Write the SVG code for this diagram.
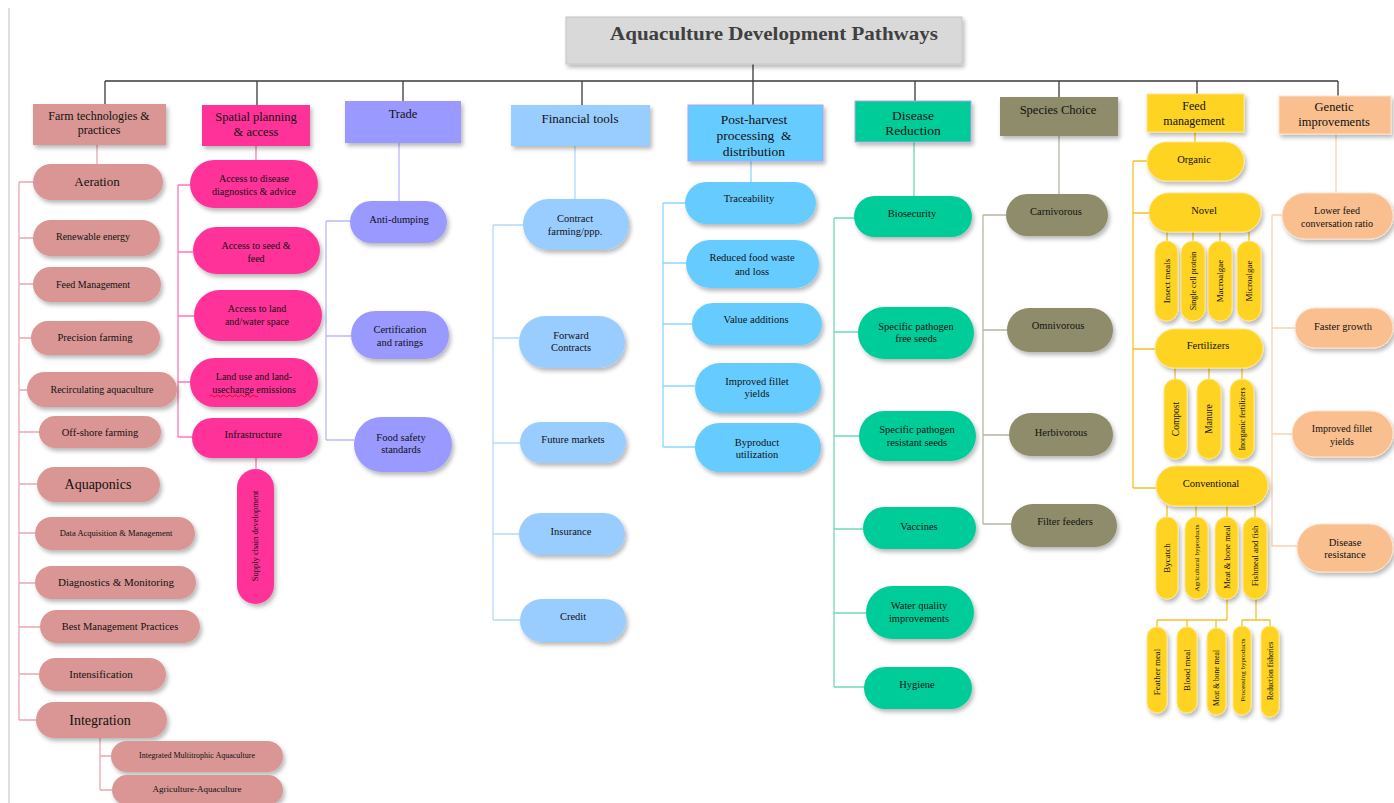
<svg xmlns="http://www.w3.org/2000/svg" width="1394" height="803" viewBox="0 0 1394 803">
<defs>
<filter id="sh" x="-20%" y="-20%" width="150%" height="160%">
<feDropShadow dx="2" dy="3" stdDeviation="2" flood-color="#000" flood-opacity="0.28"/>
</filter>
<style>
text{font-family:"Liberation Serif","DejaVu Serif",serif;fill:#111;text-anchor:middle}
.title{font-weight:bold;fill:#404040;font-size:19px}
.node{filter:url(#sh)}
.f1{fill:#d99694}
.f2{fill:#ff3399}
.f3{fill:#9999ff}
.f4{fill:#99ccff}
.f5{fill:#66ccff}
.f6{fill:#00cc99}
.f7{fill:#8e8c6b}
.f8{fill:#fed324;stroke:#ffe680;stroke-width:1}
.f9{fill:#f9bf8f;stroke:#fde2cc;stroke-width:1}
.cat5{stroke:#a9a6f0;stroke-width:1}
.cat6{stroke:#b4a7e6;stroke-width:1}
.s7{font-size:7px}.s75{font-size:7.5px}.s8{font-size:8px}.s85{font-size:8.5px}.s9{font-size:9px}.s95{font-size:9.5px}
.s10{font-size:10px}.s105{font-size:10.5px}.s11{font-size:11px}.s12{font-size:12px}.s125{font-size:12.5px}
.s13{font-size:13px}.s135{font-size:13.5px}.s14{font-size:14px}
#connectors path{fill:none;stroke-width:1.3}
.k0{stroke:#3a3a3a}
.k1{stroke:#eaa6b0}
.k2{stroke:#ff77b8}
.k3{stroke:#b8b8ff}
.k4{stroke:#b3d9ff}
.k5{stroke:#8fd6ff}
.k6{stroke:#70d8b8}
.k7{stroke:#b8b6a0}
.k8{stroke:#f5c02a}
.k9{stroke:#fad2b4}
</style>
</defs>
<rect width="1394" height="803" fill="#ffffff"/>
<line x1="9" y1="8" x2="9" y2="803" stroke="#d4d4d4" stroke-width="1.5"/>

<g id="connectors">
<path class="k0" d="M753 64V81M105 81H1338M105 81V104M257 81V105M403 81V101M582 81V105M753 81V105M915 81V101M1059 81V97M1197 81V94M1338 81V96"/>
<path class="k1" d="M97 145V164M19 182V720M19 182H33M19 238H33M19 284H33M19 338H31M19 390H27M19 432H39M19 484H37M19 533H35M19 583H35M19 627H40M19 674H39M19 720H36M100 738V790M100 756H111M100 790H112"/>
<path class="k2" d="M256 146V160M178 185V437M178 185H190M178 252H193M178 316H194M178 382H190M178 437H192M256 458V469"/>
<path class="k3" d="M399 143V201M326 221V440M326 221H350M326 336H351M326 440H354"/>
<path class="k4" d="M575 146V199M493 225V620M493 225H523M493 338H519M493 443H520M493 534H519M493 620H520"/>
<path class="k5" d="M751 161V182M663 203V447M663 203H685M663 263H686M663 324H692M663 386H695M663 447H695"/>
<path class="k6" d="M914 142V196M834 218V687M834 218H854M834 332H858M834 436H859M834 529H863M834 613H866M834 687H864"/>
<path class="k7" d="M1059 136V194M983 215V524M983 215H1006M983 330H1007M983 435H1009M983 524H1011"/>
<path class="k8" d="M1195 132V142M1133 161V488M1133 161H1147M1133 213H1149M1133 349H1155M1133 488H1156M1167 232V241M1193 232V241M1220 232V241M1249 232V241M1175 368V379M1209 368V379M1242 368V379M1167 506V517M1196 506V517M1227 506V517M1255 506V517M1227 599V620M1157 620H1227M1157 620V627M1187 620V627M1216 620V628M1256 599V620M1242 620H1270M1242 620V626M1270 620V626"/>
<path class="k9" d="M1336 134V193M1272 215V546M1272 215H1282M1272 328H1295M1272 434H1292M1272 546H1297"/>
</g>

<g id="title">
<rect class="node" x="566" y="17" width="396" height="47" fill="#d9d9d9" stroke="#c4c4c4" stroke-width="1"/>
<text class="title" x="774" y="40" textLength="328" lengthAdjust="spacingAndGlyphs">Aquaculture Development Pathways</text>
</g>

<!-- Farm technologies -->
<g id="farm">
<rect class="node f1" x="33" y="104" width="133" height="41"/>
<text class="s12" x="99" y="120">Farm technologies &amp;</text>
<text class="s12" x="99" y="134">practices</text>
</g>
<g id="aeration"><rect class="node f1" x="33" y="164" width="130" height="36" rx="18"/><text class="s13" x="97" y="186">Aeration</text></g>
<g id="renewable"><rect class="node f1" x="33" y="220" width="127" height="36" rx="18"/><text class="s10" x="93" y="240">Renewable energy</text></g>
<g id="feedmgmt"><rect class="node f1" x="33" y="267" width="128" height="35" rx="17.5"/><text class="s10" x="93" y="288">Feed Management</text></g>
<g id="precision"><rect class="node f1" x="31" y="321" width="129" height="34" rx="17"/><text class="s105" x="95" y="341">Precision farming</text></g>
<g id="recirc"><rect class="node f1" x="27" y="372" width="150" height="35" rx="17.5"/><text class="s10" x="102" y="393">Recirculating aquaculture</text></g>
<g id="offshore"><rect class="node f1" x="39" y="416" width="122" height="32" rx="16"/><text class="s105" x="100" y="436">Off-shore farming</text></g>
<g id="aquaponics"><rect class="node f1" x="37" y="467" width="123" height="35" rx="17.5"/><text class="s14" x="98" y="489">Aquaponics</text></g>
<g id="dataacq"><rect class="node f1" x="35" y="517" width="160" height="33" rx="16.5"/><text class="s85" x="116" y="536">Data Acquisition &amp; Management</text></g>
<g id="diagnostics"><rect class="node f1" x="35" y="566" width="161" height="33" rx="16.5"/><text class="s11" x="116" y="586">Diagnostics &amp; Monitoring</text></g>
<g id="bmp"><rect class="node f1" x="40" y="610" width="160" height="33" rx="16.5"/><text class="s105" x="120" y="630">Best Management Practices</text></g>
<g id="intens"><rect class="node f1" x="39" y="658" width="127" height="33" rx="16.5"/><text class="s11" x="101" y="678">Intensification</text></g>
<g id="integration"><rect class="node f1" x="36" y="702" width="131" height="36" rx="18"/><text class="s14" x="100" y="725">Integration</text></g>
<g id="imta"><rect class="node f1" x="111" y="741" width="172" height="31" rx="15.5"/><text class="s8" x="197" y="758">Integrated Multitrophic Aquaculture</text></g>
<g id="agriaqua"><rect class="node f1" x="112" y="775" width="171" height="30" rx="15"/><text class="s9" x="197" y="792">Agriculture-Aquaculture</text></g>

<!-- Spatial planning -->
<g id="spatial">
<rect class="node f2" x="202" y="105" width="108" height="41"/>
<text class="s125" x="256" y="121">Spatial planning</text>
<text class="s125" x="256" y="136">&amp; access</text>
</g>
<g id="accdisease"><rect class="node f2" x="190" y="160" width="128" height="48" rx="24"/><text class="s10" x="254" y="182">Access to disease</text><text class="s10" x="254" y="195">diagnostics &amp; advice</text></g>
<g id="accseed"><rect class="node f2" x="193" y="227" width="127" height="47" rx="23.5"/><text class="s10" x="256" y="249">Access to seed &amp;</text><text class="s10" x="256" y="262">feed</text></g>
<g id="accland"><rect class="node f2" x="194" y="290" width="128" height="51" rx="25.5"/><text class="s10" x="257" y="312">Access to land</text><text class="s10" x="257" y="325">and/water space</text></g>
<g id="landuse"><rect class="node f2" x="190" y="358" width="128" height="49" rx="24.5"/><text class="s10" x="254" y="380">Land use and land-</text><text class="s10" x="254" y="393">usechange emissions</text>
<path d="M210 396q1.5 -2 3 0t3 0t3 0t3 0t3 0t3 0t3 0t3 0t3 0t3 0t3 0t3 0t3 0t3 0t3 0t3 0" fill="none" stroke="#e00000" stroke-width="0.8"/></g>
<g id="infra"><rect class="node f2" x="192" y="418" width="126" height="40" rx="20"/><text class="s105" x="253" y="438">Infrastructure</text></g>
<g id="supply"><rect class="node f2" x="237" y="469" width="37" height="135" rx="18.5"/><text class="s85" transform="translate(255 536) rotate(-90)" y="3">Supply chain development</text></g>

<!-- Trade -->
<g id="trade"><rect class="node f3" x="345" y="101" width="116" height="42"/><text class="s125" x="403" y="118">Trade</text></g>
<g id="antidumping"><rect class="node f3" x="350" y="201" width="97" height="42" rx="21"/><text class="s105" x="399" y="223">Anti-dumping</text></g>
<g id="certification"><rect class="node f3" x="351" y="311" width="98" height="48" rx="24"/><text class="s105" x="400" y="333">Certification</text><text class="s105" x="400" y="346">and ratings</text></g>
<g id="foodsafety"><rect class="node f3" x="354" y="417" width="98" height="55" rx="27.5"/><text class="s105" x="401" y="441">Food safety</text><text class="s105" x="401" y="453">standards</text></g>

<!-- Financial tools -->
<g id="financial"><rect class="node f4" x="511" y="105" width="139" height="41"/><text class="s13" x="580" y="123">Financial tools</text></g>
<g id="contract"><rect class="node f4" x="523" y="199" width="106" height="51" rx="25.5"/><text class="s105" x="575" y="222">Contract</text><text class="s105" x="575" y="235">farming/ppp.</text></g>
<g id="forward"><rect class="node f4" x="519" y="316" width="106" height="52" rx="26"/><text class="s105" x="571" y="339">Forward</text><text class="s105" x="571" y="351">Contracts</text></g>
<g id="future"><rect class="node f4" x="520" y="422" width="106" height="41" rx="20.5"/><text class="s105" x="573" y="443">Future markets</text></g>
<g id="insurance"><rect class="node f4" x="519" y="513" width="106" height="42" rx="21"/><text class="s105" x="571" y="535">Insurance</text></g>
<g id="credit"><rect class="node f4" x="520" y="599" width="106" height="43" rx="21.5"/><text class="s105" x="573" y="620">Credit</text></g>

<!-- Post-harvest -->
<g id="postharvest"><rect class="node f5 cat5" x="688" y="105" width="135" height="56"/>
<text class="s135" x="754" y="124">Post-harvest</text><text class="s135" x="754" y="140" xml:space="preserve">processing  &amp;</text><text class="s135" x="754" y="156">distribution</text></g>
<g id="trace"><rect class="node f5" x="685" y="182" width="131" height="42" rx="21"/><text class="s105" x="749" y="202">Traceability</text></g>
<g id="reduced"><rect class="node f5" x="686" y="240" width="133" height="48" rx="24"/><text class="s105" x="752" y="261">Reduced food waste</text><text class="s105" x="752" y="275">and loss</text></g>
<g id="valueadd"><rect class="node f5" x="692" y="303" width="130" height="42" rx="21"/><text class="s105" x="756" y="323">Value additions</text></g>
<g id="fillet1"><rect class="node f5" x="695" y="363" width="126" height="50" rx="25"/><text class="s105" x="757" y="385">Improved fillet</text><text class="s105" x="757" y="397">yields</text></g>
<g id="byproduct"><rect class="node f5" x="695" y="423" width="126" height="49" rx="24.5"/><text class="s105" x="757" y="446">Byproduct</text><text class="s105" x="757" y="458">utilization</text></g>

<!-- Disease reduction -->
<g id="disease"><rect class="node f6 cat6" x="855" y="101" width="116" height="41"/><text class="s135" x="913" y="120">Disease</text><text class="s135" x="913" y="135">Reduction</text></g>
<g id="biosec"><rect class="node f6" x="854" y="196" width="118" height="41" rx="20.5"/><text class="s105" x="912" y="217">Biosecurity</text></g>
<g id="spf"><rect class="node f6" x="858" y="307" width="116" height="52" rx="26"/><text class="s105" x="916" y="330">Specific pathogen</text><text class="s105" x="916" y="342">free seeds</text></g>
<g id="spr"><rect class="node f6" x="859" y="411" width="117" height="50" rx="25"/><text class="s105" x="917" y="433">Specific pathogen</text><text class="s105" x="917" y="446">resistant seeds</text></g>
<g id="vaccines"><rect class="node f6" x="863" y="507" width="113" height="42" rx="21"/><text class="s105" x="919" y="530">Vaccines</text></g>
<g id="waterq"><rect class="node f6" x="866" y="586" width="108" height="53" rx="26.5"/><text class="s105" x="919" y="609">Water quality</text><text class="s105" x="919" y="622">improvements</text></g>
<g id="hygiene"><rect class="node f6" x="864" y="667" width="108" height="42" rx="21"/><text class="s105" x="917" y="688">Hygiene</text></g>

<!-- Species choice -->
<g id="species"><rect class="node f7" x="1000" y="97" width="118" height="39"/><text class="s125" x="1058" y="114">Species Choice</text></g>
<g id="carni"><rect class="node f7" x="1006" y="194" width="102" height="42" rx="21"/><text class="s105" x="1056" y="215">Carnivorous</text></g>
<g id="omni"><rect class="node f7" x="1007" y="308" width="106" height="44" rx="22"/><text class="s105" x="1058" y="329">Omnivorous</text></g>
<g id="herbi"><rect class="node f7" x="1009" y="413" width="104" height="43" rx="21.5"/><text class="s105" x="1061" y="436">Herbivorous</text></g>
<g id="filter"><rect class="node f7" x="1011" y="504" width="106" height="43" rx="21.5"/><text class="s105" x="1065" y="525">Filter feeders</text></g>

<!-- Feed management -->
<g id="feed"><rect class="node f8" x="1147" y="94" width="97" height="38"/><text class="s12" x="1194" y="110">Feed</text><text class="s12" x="1194" y="125">management</text></g>
<g id="organic"><rect class="node f8" x="1147" y="142" width="97" height="39" rx="19.5"/><text class="s105" x="1194" y="163">Organic</text></g>
<g id="novel"><rect class="node f8" x="1149" y="193" width="112" height="39" rx="19.5"/><text class="s105" x="1204" y="214">Novel</text></g>
<g id="insect"><rect class="node f8" x="1155" y="241" width="23" height="80" rx="11.5"/><text class="s9" transform="translate(1167 281) rotate(-90)" y="3">Insect meals</text></g>
<g id="scp"><rect class="node f8" x="1181" y="241" width="24" height="80" rx="12"/><text class="s8" transform="translate(1193 281) rotate(-90)" y="3">Single cell protein</text></g>
<g id="macro"><rect class="node f8" x="1208" y="241" width="24" height="80" rx="12"/><text class="s9" transform="translate(1220 281) rotate(-90)" y="3">Macroalgae</text></g>
<g id="micro"><rect class="node f8" x="1237" y="241" width="24" height="80" rx="12"/><text class="s9" transform="translate(1249 281) rotate(-90)" y="3">Microalgae</text></g>
<g id="fert"><rect class="node f8" x="1155" y="329" width="108" height="39" rx="19.5"/><text class="s105" x="1208" y="349">Fertilizers</text></g>
<g id="compost"><rect class="node f8" x="1164" y="379" width="23" height="80" rx="11.5"/><text class="s95" transform="translate(1176 419) rotate(-90)" y="3">Compost</text></g>
<g id="manure"><rect class="node f8" x="1197" y="379" width="24" height="80" rx="12"/><text class="s95" transform="translate(1209 419) rotate(-90)" y="3">Manure</text></g>
<g id="inorg"><rect class="node f8" x="1230" y="379" width="24" height="80" rx="12"/><text class="s8" transform="translate(1242 419) rotate(-90)" y="3">Inorganic fertilizers</text></g>
<g id="conv"><rect class="node f8" x="1156" y="466" width="112" height="40" rx="20"/><text class="s105" x="1211" y="487">Conventional</text></g>
<g id="bycatch"><rect class="node f8" x="1156" y="517" width="22" height="82" rx="11"/><text class="s9" transform="translate(1167 558) rotate(-90)" y="3">Bycatch</text></g>
<g id="agrib"><rect class="node f8" x="1185" y="517" width="23" height="82" rx="11.5"/><text class="s7" transform="translate(1196 558) rotate(-90)" y="2.5">Agricultural byproducts</text></g>
<g id="mbm1"><rect class="node f8" x="1215" y="517" width="23" height="82" rx="11.5"/><text class="s85" transform="translate(1227 557) rotate(-90)" y="3">Meat &amp; bone meal</text></g>
<g id="fishmeal"><rect class="node f8" x="1243" y="517" width="24" height="82" rx="12"/><text class="s85" transform="translate(1255 556) rotate(-90)" y="3">Fishmeal and fish</text></g>
<g id="feather"><rect class="node f8" x="1147" y="627" width="20" height="86" rx="10"/><text class="s9" transform="translate(1157 672) rotate(-90)" y="3">Feather meal</text></g>
<g id="blood"><rect class="node f8" x="1177" y="627" width="20" height="86" rx="10"/><text class="s9" transform="translate(1187 670) rotate(-90)" y="3">Blood meal</text></g>
<g id="mbm2"><rect class="node f8" x="1207" y="628" width="19" height="87" rx="9.5"/><text class="s75" transform="translate(1216 678) rotate(-90)" y="2.5">Meat &amp; bone meal</text></g>
<g id="procby"><rect class="node f8" x="1233" y="626" width="18" height="89" rx="9"/><text class="s7" transform="translate(1242 670) rotate(-90)" y="2.5">Processing byproducts</text></g>
<g id="redfish"><rect class="node f8" x="1261" y="626" width="18" height="91" rx="9"/><text class="s75" transform="translate(1270 671) rotate(-90)" y="2.5">Reduction fisheries</text></g>

<!-- Genetic improvements -->
<g id="genetic"><rect class="node f9" x="1279" y="96" width="112" height="38"/><text class="s125" x="1334" y="111">Genetic</text><text class="s125" x="1334" y="126">improvements</text></g>
<g id="lowerfcr"><rect class="node f9" x="1282" y="193" width="111" height="46" rx="23"/><text class="s10" x="1337" y="214">Lower feed</text><text class="s10" x="1337" y="227">conversation ratio</text></g>
<g id="faster"><rect class="node f9" x="1295" y="308" width="98" height="40" rx="20"/><text class="s105" x="1343" y="330">Faster growth</text></g>
<g id="fillet2"><rect class="node f9" x="1292" y="411" width="101" height="46" rx="23"/><text class="s10" x="1342" y="432">Improved fillet</text><text class="s10" x="1342" y="445">yields</text></g>
<g id="diseaseres"><rect class="node f9" x="1297" y="524" width="96" height="48" rx="24"/><text class="s105" x="1345" y="546">Disease</text><text class="s105" x="1345" y="558">resistance</text></g>
</svg>
